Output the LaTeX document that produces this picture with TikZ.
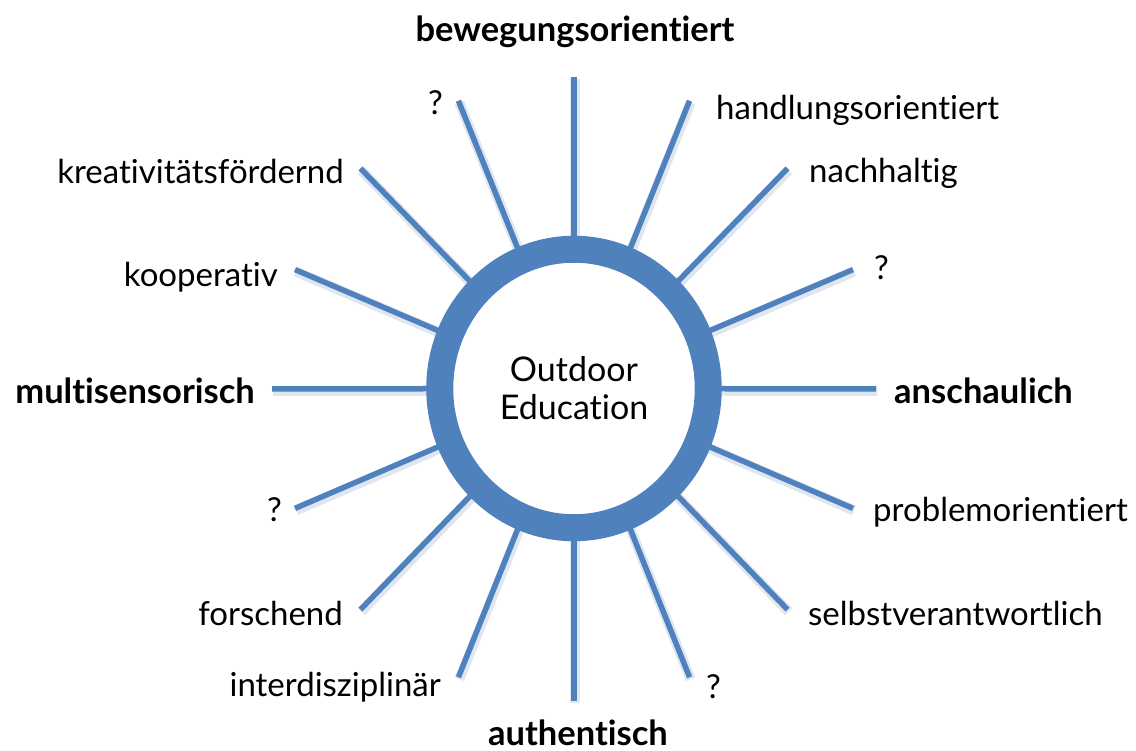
\documentclass[tikz,border=0pt]{standalone}
\usepackage{fontspec}
\setmainfont{Lato}[Ligatures={NoCommon}]
\usetikzlibrary{shapes.geometric}
\definecolor{oeblue}{HTML}{4F81BD}
\definecolor{oeshadow}{HTML}{D3DCEA}
\begin{document}
\begin{tikzpicture}[x=1pt,y=-1pt,
  spoke/.style={draw=oeblue,line width=5.5pt},
  spokeshadow/.style={draw=oeshadow,line width=10pt,opacity=0.7},
  lbl/.style={inner sep=0pt,font=\fontsize{33}{40}\selectfont,text=black},
  blbl/.style={inner sep=0pt,font=\fontsize{34.5}{40}\selectfont\bfseries,text=black},
  hubstyle/.style={draw=oeblue,line width=27pt,fill=white,ellipse,inner sep=0pt,
    minimum width=268.5pt,minimum height=278.5pt}]
\useasboundingbox (0,0) rectangle (1136,751);
\fill[white] (0,0) rectangle (1136,751);
\coordinate (C) at (574,388.5);
\foreach \i in {0,...,15}{
  \pgfmathsetmacro{\a}{\i*22.5}
  \coordinate (o\i) at ({574+302*cos(\a)},{389-312*sin(\a)});
}
\foreach \i in {0,...,15}{
  \draw[spokeshadow] ([shift={(1,2)}]C) -- ([shift={(1,2)}]o\i);
}
\foreach \i in {0,...,15}{
  \draw[spoke] (C) -- (o\i);
}
\node[hubstyle] (hub) at (C) {};
\node[lbl,anchor=base,font=\fontsize{34}{40}\selectfont] (t1) at (574,382) {Outdoor};
\node[lbl,anchor=base,font=\fontsize{34}{40}\selectfont] (t2) at (574,420) {Education};

\node[blbl,anchor=base] (top) at (575,42) {bewegungsorientiert};
\node[lbl,anchor=base east] (q1) at (443,115) {?};
\node[lbl,anchor=base west] (handl) at (716,120) {handlungsorientiert};
\node[lbl,anchor=base east] (kreat) at (344,184) {kreativitätsfördernd};
\node[lbl,anchor=base west] (nachh) at (809,183) {nachhaltig};
\node[lbl,anchor=base west] (q2) at (874,280) {?};
\node[lbl,anchor=base east] (koop) at (278,287) {kooperativ};
\node[blbl,anchor=base east] (multi) at (255,404) {multisensorisch};
\node[blbl,anchor=base west] (ansch) at (894,404) {anschaulich};
\node[lbl,anchor=base east] (q3) at (282,521) {?};
\node[lbl,anchor=base west] (probl) at (873,521) {problemorientiert};
\node[lbl,anchor=base west] (selbst) at (808,625) {selbstverantwortlich};
\node[lbl,anchor=base east] (forsch) at (343,625) {forschend};
\node[lbl,anchor=base west] (q4) at (706,698) {?};
\node[lbl,anchor=base east] (inter) at (441,696) {interdisziplinär};
\node[blbl,anchor=base] (auth) at (578,745) {authentisch};
\end{tikzpicture}
\end{document}
